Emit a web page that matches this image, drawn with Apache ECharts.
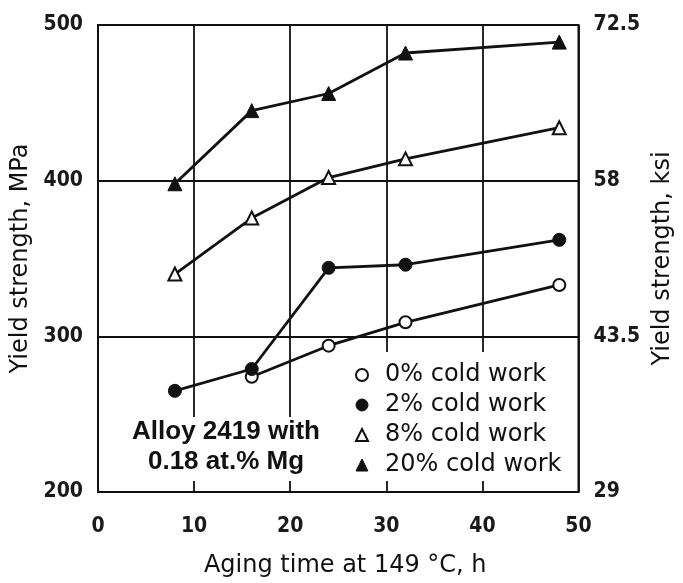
<!DOCTYPE html>
<html>
<head>
<meta charset="utf-8">
<script src="https://cdn.jsdelivr.net/npm/echarts@6/dist/echarts.min.js"></script>
<style>
  html, body { margin: 0; padding: 0; background: #fff; }
  #chart { width: 683px; height: 583px; }
</style>
</head>
<body>
<div id="chart"></div>
<script>
// Aging time (h) at 149 °C
const agingHours = [8, 16, 24, 32, 48];

// Yield strength (MPa) for each amount of cold work; null = not measured
const coldWork0 = [null, 274, 294, 309, 333];
const coldWork2 = [265, 279, 344, 346, 362];
const coldWork8 = [340, 376, 402, 414, 434];
const coldWork20 = [398, 445, 456, 482, 489];

const seriesNames = ['0% cold work', '2% cold work', '8% cold work', '20% cold work'];

// Axis ticks
const xTicks = [0, 10, 20, 30, 40, 50];
const mpaTicks = [200, 300, 400, 500];
const ksiTicks = [29, 43.5, 58, 72.5];

const narrowFont = "'Liberation Sans Narrow', 'DejaVu Sans Condensed', sans-serif";
const bodyFont = "'DejaVu Sans', sans-serif";

function pairs(values) {
  const out = [];
  values.forEach((v, i) => { if (v !== null) out.push([agingHours[i], v]); });
  return out;
}

const markerStyles = [
  { symbol: 'circle', filled: false, size: 12 },
  { symbol: 'circle', filled: true, size: 13 },
  { symbol: 'triangle', filled: false, size: 13 },
  { symbol: 'triangle', filled: true, size: 14 }
];
const seriesValues = [coldWork0, coldWork2, coldWork8, coldWork20];

function itemStyleFor(m) {
  return m.filled
    ? { color: '#111', borderColor: '#111', borderWidth: 1 }
    : { color: '#fff', borderColor: '#111', borderWidth: 2 };
}

const tickLabel = { fontFamily: narrowFont, fontSize: 21, fontWeight: 'bold', color: '#1a1a1a' };

const chart = echarts.init(document.getElementById('chart'), null, { renderer: 'canvas' });

chart.setOption({
  animation: false,
  backgroundColor: '#fff',
  grid: {
    left: 98, right: 101, top: 25, bottom: 89,
    show: true, borderColor: '#111', borderWidth: 2, backgroundColor: 'transparent'
  },
  xAxis: {
    type: 'value',
    min: xTicks[0], max: xTicks[xTicks.length - 1], interval: 10,
    name: 'Aging time at 149 °C, h',
    nameLocation: 'middle', nameGap: 62,
    nameTextStyle: { fontFamily: bodyFont, fontSize: 24, color: '#111', padding: [0, 0, 0, 14] },
    axisLine: { show: false },
    axisTick: { show: false },
    axisLabel: Object.assign({ margin: 24 }, tickLabel),
    splitLine: { show: true, lineStyle: { color: '#111', width: 1.8 } }
  },
  yAxis: [
    {
      type: 'value',
      min: mpaTicks[0], max: mpaTicks[mpaTicks.length - 1], interval: 100,
      name: 'Yield strength, MPa',
      nameLocation: 'middle', nameGap: 58, nameRotate: 90,
      nameTextStyle: { fontFamily: bodyFont, fontSize: 24, color: '#111' },
      axisLine: { show: false },
      axisTick: { show: false },
      axisLabel: Object.assign({ margin: 15 }, tickLabel),
      splitLine: { show: true, lineStyle: { color: '#111', width: 1.8 } }
    },
    {
      type: 'value',
      position: 'right',
      min: ksiTicks[0], max: ksiTicks[ksiTicks.length - 1], interval: 14.5,
      name: 'Yield strength, ksi',
      nameLocation: 'middle', nameGap: 62, nameRotate: 90,
      nameTextStyle: { fontFamily: bodyFont, fontSize: 24, color: '#111' },
      axisLine: { show: false },
      axisTick: { show: false },
      axisLabel: Object.assign({ margin: 15 }, tickLabel),
      splitLine: { show: false }
    }
  ],
  legend: {
    orient: 'vertical',
    left: 347, top: 352,
    backgroundColor: '#fff',
    padding: [8, 8, 1, 8],
    itemGap: 0,
    itemWidth: 12, itemHeight: 12,
    selectedMode: false,
    textStyle: { fontFamily: bodyFont, fontSize: 24, color: '#111', lineHeight: 30, padding: [0, 0, 0, 12] },
    data: seriesNames.map((name, i) => ({
      name,
      icon: markerStyles[i].symbol,
      itemStyle: itemStyleFor(markerStyles[i])
    }))
  },
  graphic: [
    {
      type: 'text',
      z: 10,
      x: 226, y: 417,
      style: {
        text: 'Alloy 2419 with\n0.18 at.% Mg',
        fill: '#111',
        font: "bold 26px 'Liberation Sans', Arial, sans-serif",
        align: 'center',
        verticalAlign: 'top',
        lineHeight: 30,
        backgroundColor: '#fff',
        padding: [0, 6, 4, 6]
      }
    }
  ],
  series: seriesNames.map((name, i) => ({
    name,
    type: 'line',
    yAxisIndex: 0,
    data: pairs(seriesValues[i]),
    symbol: markerStyles[i].symbol,
    symbolSize: markerStyles[i].size,
    showAllSymbol: true,
    z: 3 + (markerStyles[i].filled ? 1 : 0),
    lineStyle: { color: '#111', width: 2.8 },
    itemStyle: itemStyleFor(markerStyles[i]),
    emphasis: { disabled: true }
  }))
});
</script>
</body>
</html>
